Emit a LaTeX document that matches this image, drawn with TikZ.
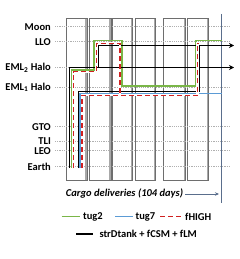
\documentclass[tikz,border=0pt]{standalone}
\usepackage{fontspec}
\setmainfont{Carlito}
\usetikzlibrary{arrows.meta}
\definecolor{tgreen}{HTML}{7AB648}
\definecolor{tblue}{HTML}{5B9BD5}
\definecolor{tred}{HTML}{D02020}
\definecolor{axisc}{HTML}{5A6E8C}
\definecolor{boxc}{HTML}{6E6E6E}
\definecolor{boxs}{HTML}{A8A8A8}
\definecolor{dotc}{HTML}{B0B0B0}
\begin{document}
\begin{tikzpicture}[x=1pt,y=-1pt,
  lbl/.style={anchor=east,font=\bfseries\fontsize{10.5}{12}\selectfont,inner sep=0pt},
  leg/.style={anchor=west,font=\bfseries\fontsize{10.5}{12}\selectfont,inner sep=0pt},
  dotline/.style={dotc,line width=0.9pt,dash pattern=on 1.2pt off 1pt},
  boxline/.style={draw=boxc,line width=0.7pt},
  boxshade/.style={draw=boxs,line width=1.6pt},
  gpath/.style={tgreen,line width=1.3pt},
  bpath/.style={tblue,line width=1.2pt},
  kpath/.style={black,line width=1.4pt},
  rpath/.style={tred,line width=1.4pt,dash pattern=on 5pt off 3pt},
  rback/.style={white,line width=2.2pt},
  arr/.style={-{Stealth[length=5pt,width=5pt]}}]
\useasboundingbox (0,0) rectangle (240,259);
% boxes
\foreach \l/\r in {66.7/87, 89.3/111, 112.7/132.7, 135/155.5, 163.5/185.5, 187.5/208.3}{
  \draw[boxshade] (\r-0.8,18.3) -- (\r-0.8,180);
  \draw[boxline] (\l,18.3) rectangle (\r,180);
}
% level labels and dotted lines
\node[lbl] (moon) at (51,26.7) {Moon};
\node[lbl] (llo) at (51,41.7) {LLO};
\node[lbl] (eml2) at (51,67.7) {EML\textsubscript{2} Halo};
\node[lbl] (eml1) at (51,87.3) {EML\textsubscript{1} Halo};
\node[lbl] (gto) at (51,126.7) {GTO};
\node[lbl] (tli) at (51,141) {TLI};
\node[lbl] (leo) at (51,150.7) {LEO};
\node[lbl] (earth) at (51,166.7) {Earth};
\foreach \y in {26.7,41.7,67.7,87.3,126.7,141,150.7,166.7}{
  \draw[dotline] (55,\y) -- (230,\y);
}
% time axis
\coordinate (axtop) at (221.7,14);
\coordinate (axbot) at (221.7,203);
\draw[axisc,line width=0.9pt] (axtop) -- (axbot);
% paths
\draw[gpath] (71.7,168) -- (71.7,70) -- (94,70) -- (94,40.5) -- (122,40.5) -- (122,86) -- (196,86) -- (196,40.5) -- (221.7,40.5);
\draw[bpath] (80,168) -- (80,93.3) -- (221.7,93.3);
\draw[kpath,arr] (69.2,168) -- (69.2,67.5) -- (234,67.5);
\draw[kpath,arr] (98.5,67.5) -- (98.5,45.5) -- (234,45.5);
\draw[kpath] (78.3,168) -- (78.3,91.3) -- (199,91.3) -- (199,45.5);
\draw[rback] (73.6,168) -- (73.6,71.8) -- (96.2,71.8) -- (96.2,43.3) -- (120,43.3) -- (120,95.3);
\draw[rback] (82,168) -- (82,95.3) -- (197.5,95.3) -- (197.5,43.3) -- (199,43.3);
\draw[rpath] (73.6,168) -- (73.6,71.8) -- (96.2,71.8) -- (96.2,43.3) -- (120,43.3) -- (120,95.3);
\draw[rpath] (82,168) -- (82,95.3) -- (197.5,95.3) -- (197.5,43.3) -- (199,43.3);
% cargo label
\node[font=\bfseries\itshape\fontsize{10.5}{12}\selectfont,inner sep=0pt] (cargo) at (124.5,193) {Cargo deliveries (104 days)};
\coordinate (cargoend) at (219,194);
\draw[axisc,line width=0.8pt,-{Stealth[length=4pt,width=3.5pt]}] ([xshift=2pt]cargo.east |- cargoend) -- (cargoend);
% legend
\draw[gpath] (61.7,216.7) -- (80,216.7);
\node[leg] (ltug2) at (83,216.7) {tug2};
\draw[bpath] (115,216.7) -- (133.3,216.7);
\node[leg] (ltug7) at (135.5,216.7) {tug7};
\draw[rpath,dash pattern=on 5pt off 3.2pt] (160,216.7) -- (182,216.7);
\node[leg] (lfhigh) at (185,216.7) {fHIGH};
\draw[kpath] (76,234) -- (93.3,234);
\node[leg] (lstr) at (99.3,234) {strDtank + fCSM + fLM};
\end{tikzpicture}
\end{document}
